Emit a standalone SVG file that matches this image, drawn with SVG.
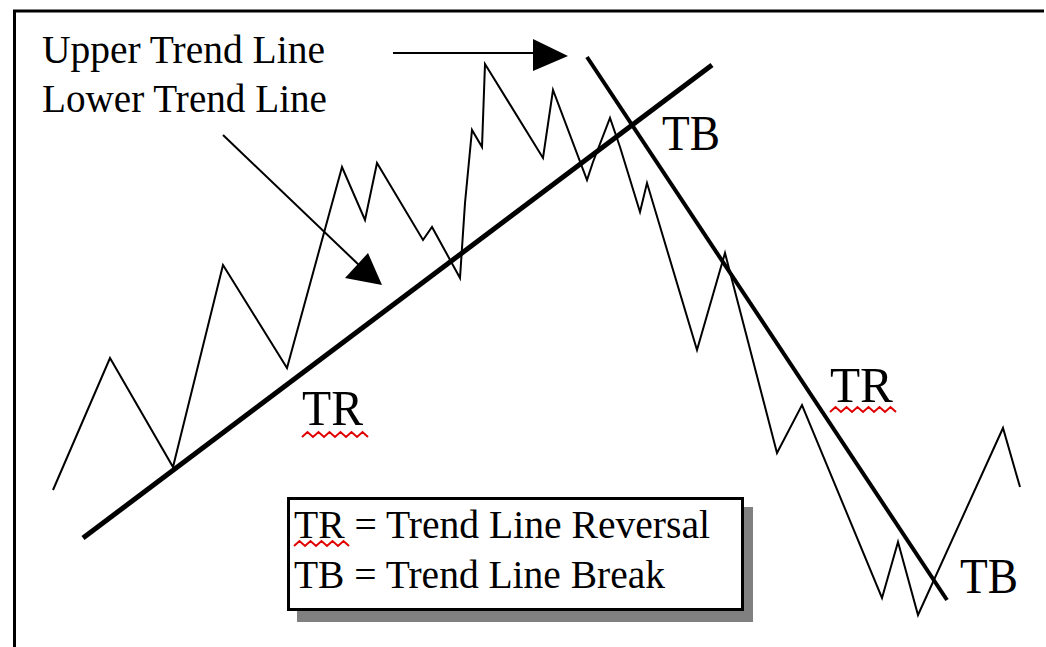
<svg xmlns="http://www.w3.org/2000/svg" width="1046" height="647" viewBox="0 0 1046 647">
<style>
.t{font-family:"Liberation Serif","Times New Roman",serif;fill:#000}
.thin{fill:none;stroke:#000;stroke-width:2;stroke-linejoin:miter;stroke-linecap:butt}
.sq{fill:none;stroke:#e00000;stroke-width:2}
</style>
<rect width="1046" height="647" fill="#fff"/>
<g id="frame">
<path d="M14.5 647 V11 H1044" fill="none" stroke="#000" stroke-width="3"/>
</g>
<g id="price">
<polyline class="thin" points="53,490 110,358 173,467 223,265 287,368 342,167 365,220 377,163 423,240 432,227 460,278 465,203 472,130 482,147 485,64 543,158 553,90 587,180 593,162 610,118 620,147 640,212 647,183 697,350 725,253 777,453 802,405 882,598 898,542 918,615 1003,428 1020,487"/>
</g>
<g id="lower-trend-line">
<line x1="83" y1="538" x2="712" y2="65" stroke="#000" stroke-width="5"/>
</g>
<g id="upper-trend-line">
<line x1="587" y1="57" x2="947" y2="600" stroke="#000" stroke-width="4"/>
</g>
<g id="connectors">
<line x1="393" y1="53" x2="540" y2="53" stroke="#000" stroke-width="2"/>
<polygon points="533,39 568,56 533,71" fill="#000"/>
<line x1="223" y1="135" x2="360" y2="266" stroke="#000" stroke-width="2"/>
<polygon points="345,278 368,253 382,285" fill="#000"/>
</g>
<g id="title-labels">
<text class="t" x="42" y="63" font-size="39" textLength="283" lengthAdjust="spacingAndGlyphs">Upper Trend Line</text>
<text class="t" x="42" y="112" font-size="39" textLength="285" lengthAdjust="spacingAndGlyphs">Lower Trend Line</text>
</g>
<g id="tb-top">
<text class="t" x="662" y="150" font-size="50" textLength="58" lengthAdjust="spacingAndGlyphs">TB</text>
</g>
<g id="tr-left">
<text class="t" x="302" y="425" font-size="50" textLength="61" lengthAdjust="spacingAndGlyphs">TR</text>
<path class="sq" d="M302 437 l5.5 -5 5.5 5 5.5 -5 5.5 5 5.5 -5 5.5 5 5.5 -5 5.5 5 5.5 -5 5.5 5 5.5 -5 5.5 5"/>
</g>
<g id="tr-right">
<text class="t" x="830" y="402" font-size="50" textLength="63" lengthAdjust="spacingAndGlyphs">TR</text>
<path class="sq" d="M830 412 l5.5 -5 5.5 5 5.5 -5 5.5 5 5.5 -5 5.5 5 5.5 -5 5.5 5 5.5 -5 5.5 5 5.5 -5 5.5 5"/>
</g>
<g id="tb-bottom">
<text class="t" x="960" y="593" font-size="50" textLength="58" lengthAdjust="spacingAndGlyphs">TB</text>
</g>
<g id="legend">
<rect x="297" y="507" width="456" height="115" fill="#808080"/>
<rect x="288.5" y="498.5" width="454" height="111" fill="#fff" stroke="#000" stroke-width="3"/>
<text class="t" x="294" y="538" font-size="39" textLength="416" lengthAdjust="spacingAndGlyphs">TR = Trend Line Reversal</text>
<path class="sq" d="M294 546 l5.5 -5 5.5 5 5.5 -5 5.5 5 5.5 -5 5.5 5 5.5 -5 5.5 5 5.5 -5 5.5 5"/>
<text class="t" x="294" y="588" font-size="39" textLength="371" lengthAdjust="spacingAndGlyphs">TB = Trend Line Break</text>
</g>
</svg>
